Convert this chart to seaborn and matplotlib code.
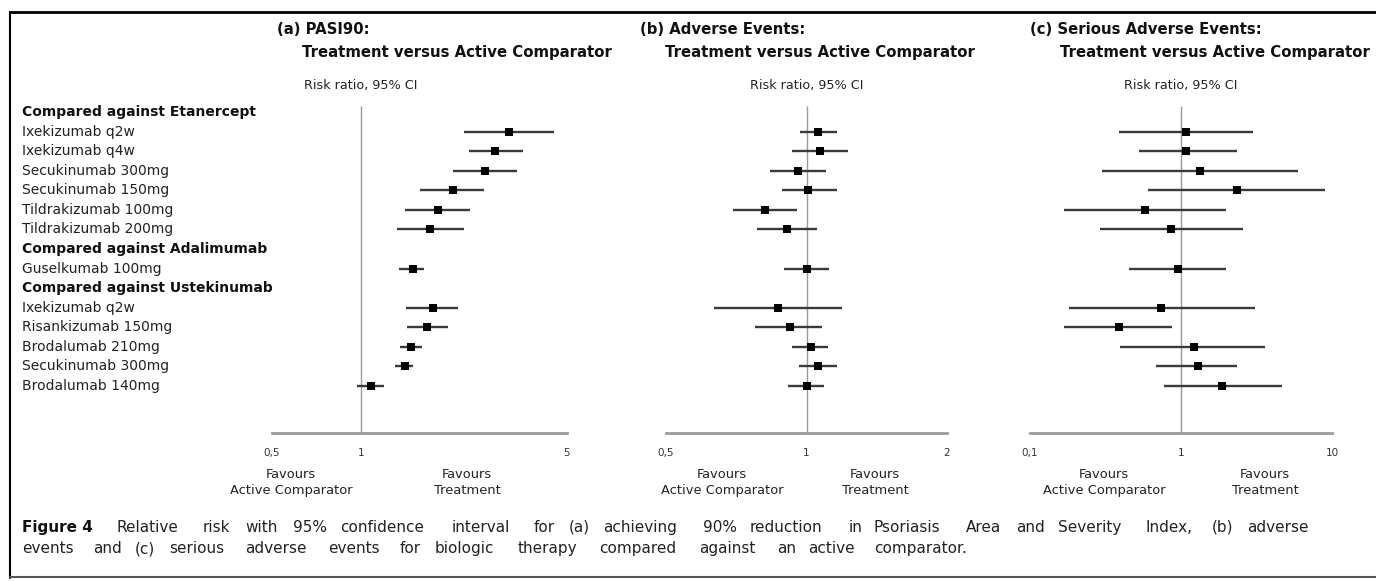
import numpy as np
import pandas as pd
import matplotlib
matplotlib.use("Agg")
import matplotlib.pyplot as plt
import seaborn as sns
from matplotlib.lines import Line2D
from matplotlib.transforms import blended_transform_factory
from matplotlib.ticker import NullLocator

# ---------------- data ----------------
row_labels = [
    "Compared against Etanercept",
    "Ixekizumab q2w", "Ixekizumab q4w", "Secukinumab 300mg", "Secukinumab 150mg",
    "Tildrakizumab 100mg", "Tildrakizumab 200mg",
    "Compared against Adalimumab",
    "Guselkumab 100mg",
    "Compared against Ustekinumab",
    "Ixekizumab q2w", "Risankizumab 150mg", "Brodalumab 210mg", "Secukinumab 300mg",
    "Brodalumab 140mg",
]
header_rows = [0, 7, 9]
data_rows = [1, 2, 3, 4, 5, 6, 8, 10, 11, 12, 13, 14]

pasi_rr = [3.19, 2.86, 2.64, 2.05, 1.82, 1.72, 1.50, 1.75, 1.68, 1.48, 1.41, 1.08]
pasi_lo = [2.23, 2.32, 2.06, 1.59, 1.41, 1.33, 1.35, 1.42, 1.43, 1.36, 1.31, 0.97]
pasi_hi = [4.52, 3.55, 3.39, 2.62, 2.35, 2.23, 1.64, 2.14, 1.98, 1.61, 1.50, 1.20]

ae_rr = [1.06, 1.07, 0.957, 1.005, 0.816, 0.91, 1.00, 0.87, 0.92, 1.02, 1.06, 1.00]
ae_lo = [0.97, 0.93, 0.837, 0.887, 0.696, 0.785, 0.897, 0.634, 0.777, 0.93, 0.966, 0.914]
ae_hi = [1.16, 1.23, 1.10, 1.16, 0.955, 1.055, 1.115, 1.19, 1.08, 1.11, 1.16, 1.09]

sae_rr = [1.08, 1.08, 1.33, 2.34, 0.579, 0.854, 0.95, 0.74, 0.387, 1.21, 1.29, 1.88]
sae_lo = [0.387, 0.527, 0.30, 0.604, 0.169, 0.29, 0.453, 0.182, 0.169, 0.395, 0.688, 0.766]
sae_hi = [3.01, 2.34, 5.95, 9.03, 1.99, 2.56, 1.99, 3.07, 0.866, 3.60, 2.34, 4.70]

panel_titles = [
    ("(a) PASI90:", "Treatment versus Active Comparator"),
    ("(b) Adverse Events:", "Treatment versus Active Comparator"),
    ("(c) Serious Adverse Events:", "Treatment versus Active Comparator"),
]
panel_xlims = [(0.5, 5), (0.5, 2), (0.1, 10)]
panel_ticks = [[0.5, 1, 5], [0.5, 1, 2], [0.1, 1, 10]]
panel_ticklabels = [["0,5", "1", "5"], ["0,5", "1", "2"], ["0,1", "1", "10"]]
axis_label = "Risk ratio, 95% CI"
favours_left = "Favours\nActive Comparator"
favours_right = "Favours\nTreatment"
caption_bold = "Figure 4"
caption_line1 = ("Relative risk with 95% confidence interval for (a) achieving 90% reduction in "
                 "Psoriasis Area and Severity Index, (b) adverse")
caption_line2 = ("events and (c) serious adverse events for biologic therapy compared against "
                 "an active comparator.")

# ---------------- style ----------------
sns.set_style("white")
plt.rcParams['font.family'] = ['DejaVu Sans']

W, H = 1376, 581
fig = plt.figure(figsize=(W / 100, H / 100), dpi=100)


def fx(px):
    return px / W


def fy(py):
    return 1 - py / H


row_y0, row_dy = 112, 19.57
axis_y = 433
top_y = 100
ylim_top = (top_y - row_y0) / row_dy
ylim_bot = (axis_y - row_y0) / row_dy

panel_px = [(272, 567), (666, 947), (1030, 1332)]
panel_data = [(pasi_rr, pasi_lo, pasi_hi), (ae_rr, ae_lo, ae_hi), (sae_rr, sae_lo, sae_hi)]
title_px = [(277, 302), (640, 665), (1030, 1060)]
favour_px = [(291, 467), (722, 875), (1104, 1265)]

axes = []
for i in range(3):
    x0, x1 = panel_px[i]
    ax = fig.add_axes([fx(x0), fy(axis_y), fx(x1 - x0), (axis_y - top_y) / H])
    axes.append(ax)
    rr, lo, hi = panel_data[i]
    df = pd.DataFrame({"row": data_rows, "rr": rr, "lo": lo, "hi": hi})
    ax.set_xscale("log")
    ax.vlines(1, -0.3, ylim_bot, color="#9a9a9a", lw=1.0, zorder=1)
    ax.hlines(df["row"], df["lo"], df["hi"], color="#3a3a3a", lw=1.7, zorder=2)
    sns.scatterplot(data=df, x="rr", y="row", marker="s", color="black", s=38,
                    linewidth=0, ax=ax, zorder=3, legend=False)
    ax.set_xlim(*panel_xlims[i])
    ax.set_ylim(ylim_bot, ylim_top)
    ax.set_xticks(panel_ticks[i])
    ax.set_xticklabels(panel_ticklabels[i])
    ax.xaxis.set_minor_locator(NullLocator())
    ax.set_yticks([])
    ax.set_xlabel("")
    ax.set_ylabel("")
    ax.tick_params(axis="x", length=0, pad=11, labelsize=7.5, labelcolor="#333333")
    for s in ["top", "left", "right"]:
        ax.spines[s].set_visible(False)
    ax.spines["bottom"].set_color("#9a9a9a")
    ax.spines["bottom"].set_linewidth(2.0)
    ax.patch.set_alpha(0)
    tr = blended_transform_factory(ax.transData, fig.transFigure)
    ax.text(1, fy(85), axis_label, transform=tr, ha="center", va="center",
            fontsize=9.2, color="#222222")
    # titles
    fig.text(fx(title_px[i][0]), fy(30), panel_titles[i][0], fontsize=10.7,
             fontweight="bold", ha="left", va="center", color="#111111")
    fig.text(fx(title_px[i][1]), fy(52), panel_titles[i][1], fontsize=10.7,
             fontweight="bold", ha="left", va="center", color="#111111")
    fig.text(fx(favour_px[i][0]), fy(468), favours_left, fontsize=9.4, ha="center",
             va="top", color="#222222", linespacing=1.3)
    fig.text(fx(favour_px[i][1]), fy(468), favours_right, fontsize=9.4, ha="center",
             va="top", color="#222222", linespacing=1.3)

# row labels
tr_rows = blended_transform_factory(fig.transFigure, axes[0].transData)
for r, lab in enumerate(row_labels):
    bold = r in header_rows
    axes[0].text(fx(22), r, lab, transform=tr_rows, ha="left", va="center",
                 fontsize=10, fontweight="bold" if bold else "normal",
                 color="#111111" if bold else "#222222", clip_on=False)

# caption: the reference is letter-spaced; emulate by spreading word gaps
renderer = fig.canvas.get_renderer()
cap_size = 11


def measure(s, weight="normal"):
    t = fig.text(0, 0, s, fontsize=cap_size, fontweight=weight)
    w = t.get_window_extent(renderer).width
    t.remove()
    return w


space_w = measure("a b") - measure("ab")
line1_words = [(caption_bold, "bold")] + [(w, "normal") for w in caption_line1.split()]
line2_words = [(w, "normal") for w in caption_line2.split()]

nat1 = sum(measure(w, wt) for w, wt in line1_words) + space_w * len(line1_words)
nchar1 = sum(len(w) for w, _ in line1_words) + len(line1_words)
track = (1330 - 22 - nat1) / nchar1


def draw_line(words, y):
    x = 22
    for w, wt in words:
        t = fig.text(fx(x), fy(y), w, fontsize=cap_size, fontweight=wt, ha="left",
                     va="baseline", color="#111111" if wt == "bold" else "#222222")
        x += t.get_window_extent(renderer).width + space_w + track * (len(w) + 1)


draw_line(line1_words, 532)
draw_line(line2_words, 553)

# frame lines
fig.add_artist(Line2D([fx(10), 1.0], [fy(12), fy(12)], color="black", lw=2))
fig.add_artist(Line2D([fx(10), fx(10)], [fy(12), fy(578)], color="black", lw=1.5))
fig.add_artist(Line2D([fx(10), 1.0], [fy(577), fy(577)], color="#555555", lw=1.5))

fig.savefig("out.png", dpi=100)
